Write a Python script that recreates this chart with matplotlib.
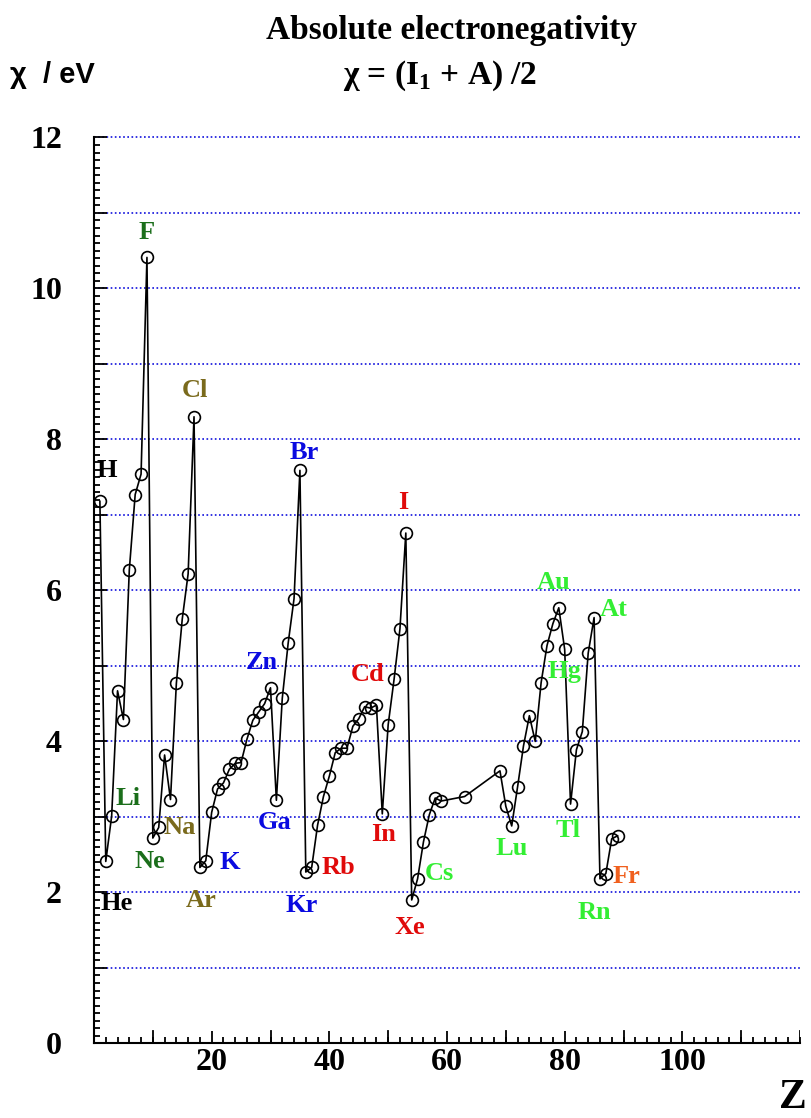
import matplotlib
matplotlib.use("Agg")
import matplotlib.pyplot as plt
from matplotlib.ticker import MultipleLocator

# Absolute electronegativity chi = (I1 + A)/2
Z = list(range(1, 60)) + [63] + list(range(69, 90))
chi = [7.18, 2.41, 3.01, 4.67, 4.29, 6.27, 7.27, 7.54, 10.41, 2.72,
       2.86, 3.82, 3.23, 4.77, 5.62, 6.22, 8.30, 2.33, 2.42, 3.06,
       3.37, 3.45, 3.63, 3.71, 3.72, 4.03, 4.28, 4.39, 4.50, 4.71,
       3.22, 4.57, 5.30, 5.89, 7.59, 2.27, 2.33, 2.89, 3.27, 3.54,
       3.85, 3.91, 3.91, 4.20, 4.30, 4.46, 4.44, 4.48, 3.04, 4.22,
       4.82, 5.49, 6.76, 1.90, 2.18, 2.67, 3.03, 3.25, 3.21,
       3.27,
       3.61, 3.14, 2.88, 3.40, 3.94, 4.34, 4.00, 4.78, 5.27, 5.56,
       5.77, 5.22, 3.17, 3.89, 4.13, 5.17, 5.64, 2.18, 2.25, 2.71, 2.75]

# element labels shown on the chart and the Z they belong to
label_names = ['H', 'He', 'Li', 'F', 'Ne', 'Na', 'Cl', 'Ar', 'K', 'Zn', 'Ga',
               'Br', 'Kr', 'Rb', 'Cd', 'In', 'I', 'Xe', 'Cs', 'Lu', 'Au',
               'Hg', 'Tl', 'At', 'Rn', 'Fr']
label_z = [1, 2, 3, 9, 10, 11, 17, 18, 19, 30, 31, 35, 36, 37, 48, 49, 53,
           54, 55, 71, 79, 80, 81, 85, 86, 87]

x_ticks = [20, 40, 60, 80, 100]
y_ticks = list(range(0, 13))
y_tick_labels = [str(v) if v % 2 == 0 else '' for v in y_ticks]

# label styling: colour and offset (points) from the marker
dark_green = '#1b6e1b'
olive = '#7a6a1c'
blue = '#0a0ae0'
red = '#e00a0a'
green = '#33ee33'
orange = '#f0601e'
label_style = {
    'H': ('black', (5, 22)), 'He': ('black', (8, -30)),
    'Li': (dark_green, (12, 13)), 'F': (dark_green, (0, 18)),
    'Ne': (dark_green, (-2, -17)), 'Na': (olive, (15, 0)),
    'Cl': (olive, (1, 19)), 'Ar': (olive, (1, -24)),
    'K': (blue, (17, -1)), 'Zn': (blue, (-6, 18)), 'Ga': (blue, (-1, -16)),
    'Br': (blue, (3, 13)), 'Kr': (blue, (-3, -24)),
    'Rb': (red, (19, 0)), 'Cd': (red, (-6, 22)), 'In': (red, (1, -15)),
    'I': (red, (-2, 22)), 'Xe': (red, (-1, -20)),
    'Cs': (green, (16, 4)), 'Lu': (green, (0, -16)), 'Au': (green, (-4, 18)),
    'Hg': (green, (0, -16)), 'Tl': (green, (-2, -19)), 'At': (green, (14, 6)),
    'Rn': (green, (-4, -24)), 'Fr': (orange, (15, -2)),
}

plt.rcParams['mathtext.fontset'] = 'custom'
plt.rcParams['mathtext.rm'] = 'Liberation Serif:bold'
plt.rcParams['mathtext.bf'] = 'Liberation Serif:bold'

serif = 'Liberation Serif'

fig = plt.figure(figsize=(8.11, 11.18), dpi=100)
ax = fig.add_axes([94 / 811, 74.6 / 1118, 706 / 811, 906 / 1118])

# dotted horizontal grid
for y in range(1, 13):
    ax.axhline(y, color='#1010dd', lw=1.2, ls=(0, (1, 1.5)), zorder=1,
               clip_on=False)

ax.plot(Z, chi, color='black', lw=1.2, marker='o', ms=8.5, mfc='none',
        mec='black', mew=1.2, zorder=3, clip_on=False)

for name, z in zip(label_names, label_z):
    color, off = label_style[name]
    v = chi[Z.index(z)]
    ax.annotate(name, (z, v), xytext=off, textcoords='offset points',
                ha='center', va='center', color=color, fontsize=19,
                fontweight='bold', family=serif, zorder=4)

ax.set_xlim(0, 120)
ax.set_ylim(0, 12)
ax.set_xticks(x_ticks)
ax.set_xticklabels([str(t) for t in x_ticks])
ax.set_yticks(y_ticks)
ax.set_yticklabels(y_tick_labels)
ax.xaxis.set_minor_locator(MultipleLocator(2))
ax.yaxis.set_minor_locator(MultipleLocator(0.1))
ax.tick_params(which='both', direction='in', width=1.3, colors='black')
ax.tick_params(axis='y', which='major', length=9, pad=23)
ax.tick_params(axis='y', which='minor', length=4.5)
ax.tick_params(axis='x', which='major', length=9, pad=3)
ax.tick_params(axis='x', which='minor', length=4.5)
# x=10 multiples also get long ticks
for t in range(10, 121, 10):
    if t not in x_ticks:
        ax.axvline(t, ymin=0, ymax=9 / 906 * 1.389, color='black', lw=1.3)
for lab in ax.get_xticklabels() + ax.get_yticklabels():
    lab.set_family(serif)
    lab.set_fontweight('bold')
    lab.set_fontsize(23)

ax.spines['top'].set_visible(False)
ax.spines['right'].set_visible(False)
ax.spines['left'].set_linewidth(1.5)
ax.spines['bottom'].set_linewidth(1.5)

fig.text(452 / 811, 1 - 30 / 1118, 'Absolute electronegativity', ha='center',
         va='center', family=serif, fontweight='bold', fontsize=24)
fig.text(440 / 811, 1 - 76 / 1118, r'χ = (I$_{1}$ + A) /2', ha='center',
         va='center', family=serif, fontweight='bold', fontsize=24)
fig.text(10 / 811, 1 - 75 / 1118, 'χ  / eV', ha='left', va='center',
         family='Liberation Sans', fontweight='bold', fontsize=21)
fig.text(793 / 811, 1 - 1098 / 1118, 'Z', ha='center', va='center',
         family=serif, fontweight='bold', fontsize=30)

fig.savefig('out.png', dpi=100)
